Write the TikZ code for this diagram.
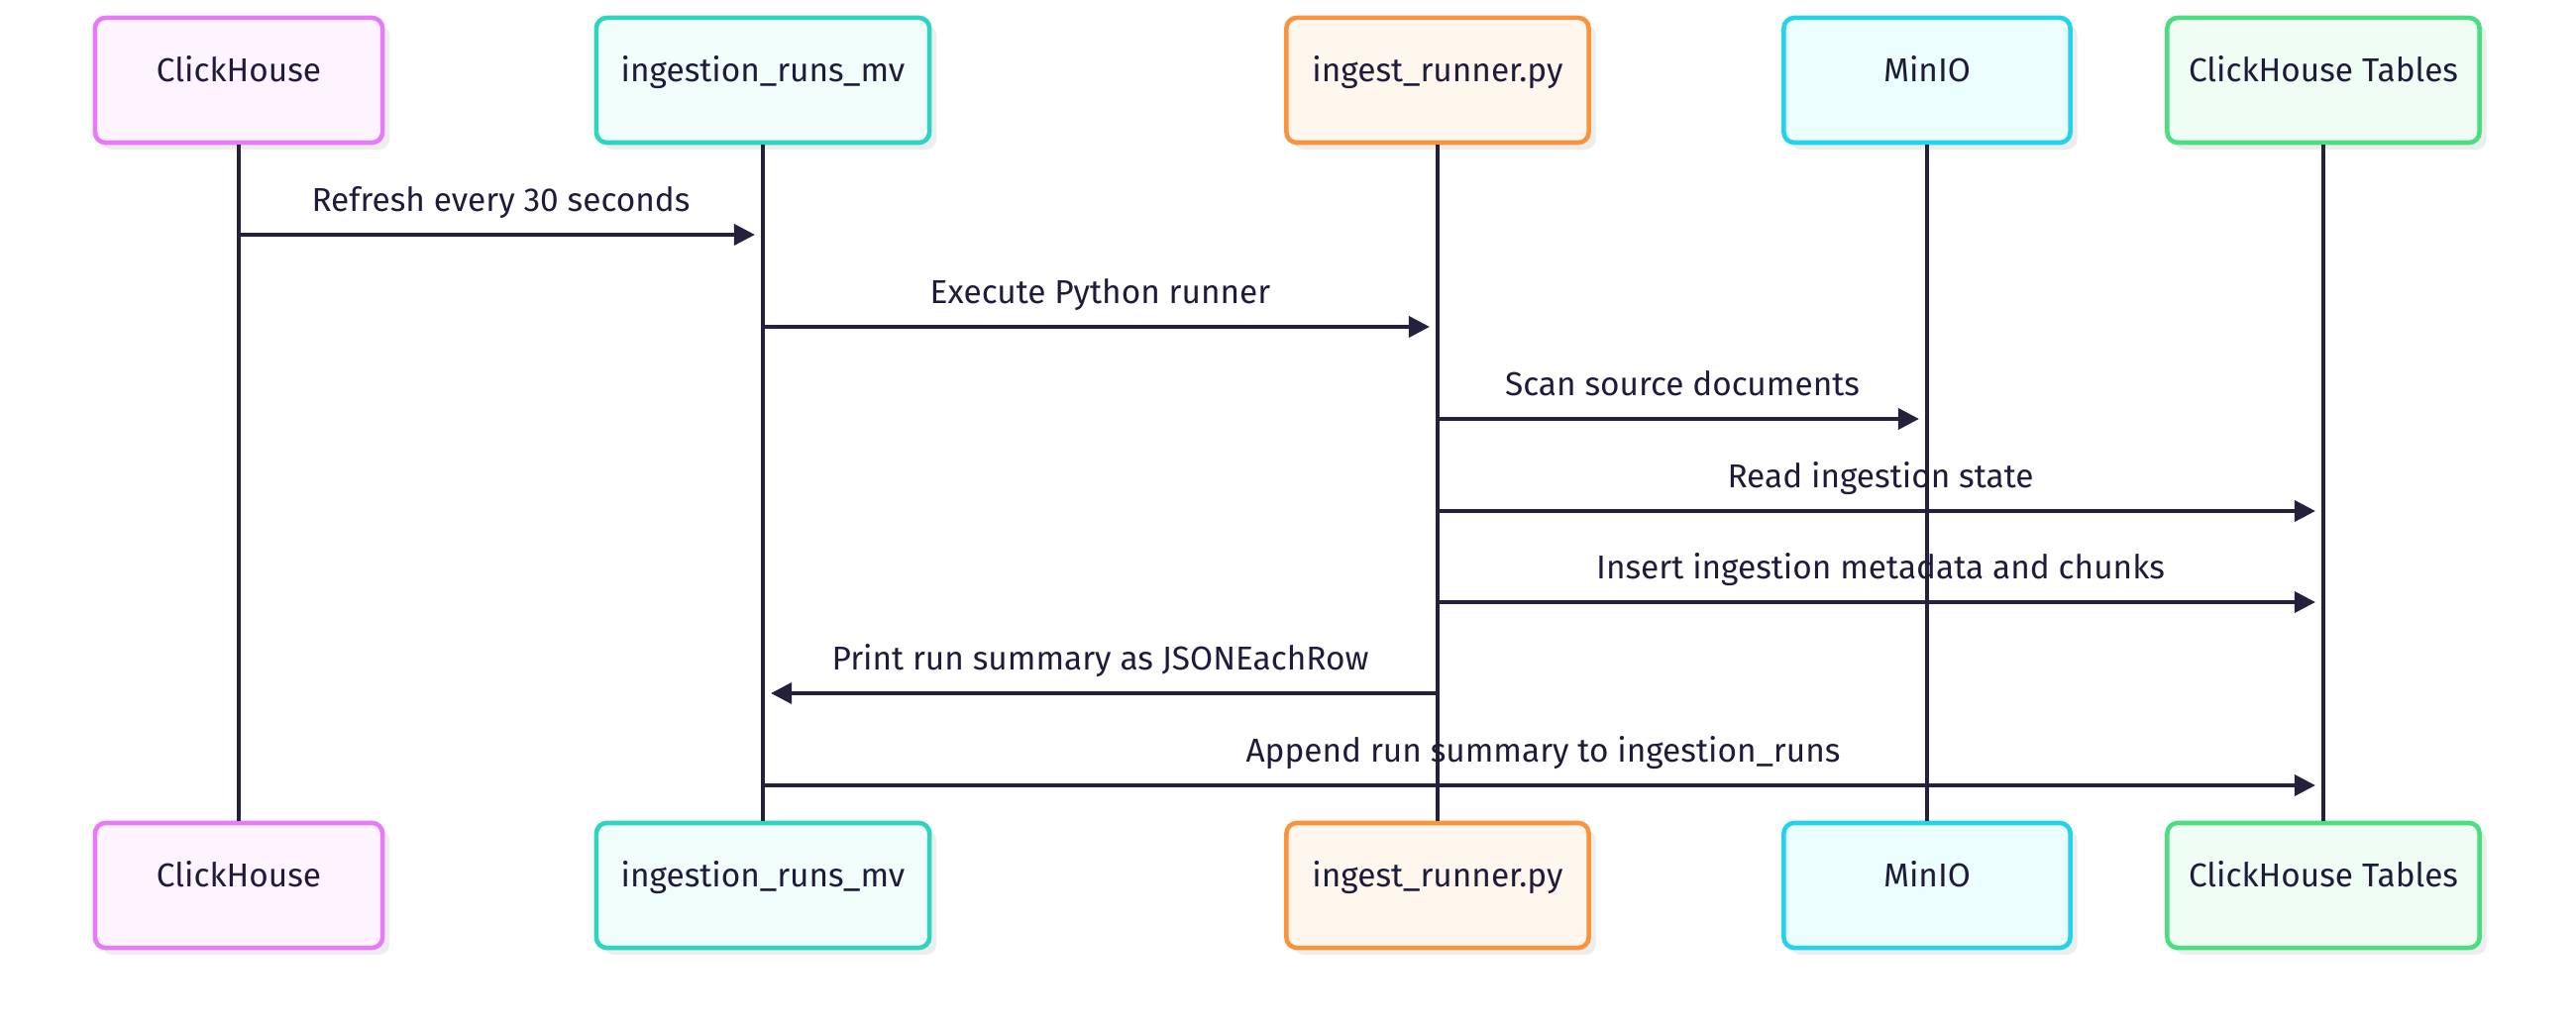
\documentclass[tikz,border=0pt]{standalone}
\usepackage{fontspec}
\setmainfont{Fira Sans}
\usetikzlibrary{arrows.meta, shadows}

\definecolor{ink}{HTML}{1E1C3A}
\definecolor{wire}{HTML}{23213B}
\definecolor{chLine}{HTML}{E879F9}   \definecolor{chFill}{HTML}{FDF4FF}
\definecolor{mvLine}{HTML}{2DD4BF}   \definecolor{mvFill}{HTML}{F0FDFA}
\definecolor{pyLine}{HTML}{FB923C}   \definecolor{pyFill}{HTML}{FFF7ED}
\definecolor{s3Line}{HTML}{22D3EE}   \definecolor{s3Fill}{HTML}{ECFEFF}
\definecolor{tbLine}{HTML}{4ADE80}   \definecolor{tbFill}{HTML}{F0FDF4}

\begin{document}
\begin{tikzpicture}[
    x=0.01cm, y=-0.01cm,
    font=\fontsize{9.5}{11}\selectfont,
    text=ink,
    actor/.style={draw, line width=1.3pt, rounded corners=3pt, minimum height=1.26cm,
        text height=7pt, text depth=6pt,
        drop shadow={shadow xshift=2pt, shadow yshift=-2pt, fill=black!7, opacity=1}},
    life/.style={draw=wire, line width=1.1pt},
    msg/.style={draw=wire, line width=1.1pt, -{Triangle[length=6pt, width=6pt]}, shorten >=2.3pt},
    msglabel/.style={midway, above=6pt, inner sep=0pt, text depth=0pt}
]
   \useasboundingbox (0,0) rectangle (2600,1037);

   % Participants (top)
   \node[actor, draw=chLine, fill=chFill, minimum width=2.90cm] (ch)     at (241,81)  {ClickHouse};
   \node[actor, draw=mvLine, fill=mvFill, minimum width=3.36cm] (mv)     at (770,81)  {ingestion\_runs\_mv};
   \node[actor, draw=pyLine, fill=pyFill, minimum width=3.05cm] (runner) at (1451,81) {ingest\_runner.py};
   \node[actor, draw=s3Line, fill=s3Fill, minimum width=2.89cm] (minio)  at (1945,81) {MinIO};
   \node[actor, draw=tbLine, fill=tbFill, minimum width=3.15cm] (tables) at (2345,81) {ClickHouse Tables};

   % Participants (bottom)
   \node[actor, draw=chLine, fill=chFill, minimum width=2.90cm] (chEnd)     at (241,894)  {ClickHouse};
   \node[actor, draw=mvLine, fill=mvFill, minimum width=3.36cm] (mvEnd)     at (770,894)  {ingestion\_runs\_mv};
   \node[actor, draw=pyLine, fill=pyFill, minimum width=3.05cm] (runnerEnd) at (1451,894) {ingest\_runner.py};
   \node[actor, draw=s3Line, fill=s3Fill, minimum width=2.89cm] (minioEnd)  at (1945,894) {MinIO};
   \node[actor, draw=tbLine, fill=tbFill, minimum width=3.15cm] (tablesEnd) at (2345,894) {ClickHouse Tables};

   % Lifelines
   \foreach \p in {ch, mv, runner, minio, tables}
      \draw[life] (\p.south) -- (\p End.north);

   % Message levels
   \coordinate (t1) at (0,237);
   \coordinate (t2) at (0,330);
   \coordinate (t3) at (0,423);
   \coordinate (t4) at (0,516);
   \coordinate (t5) at (0,608);
   \coordinate (t6) at (0,700);
   \coordinate (t7) at (0,793);

   % Messages
   \draw[msg] (ch |- t1) -- (mv |- t1) node[msglabel] {Refresh every 30 seconds};
   \draw[msg] (mv |- t2) -- (runner |- t2) node[msglabel] {Execute Python runner};
   \draw[msg] (runner |- t3) -- (minio |- t3) node[msglabel] {Scan source documents};
   \draw[msg] (runner |- t4) -- (tables |- t4) node[msglabel] {Read ingestion state};
   \draw[msg] (runner |- t5) -- (tables |- t5) node[msglabel] {Insert ingestion metadata and chunks};
   \draw[msg] (runner |- t6) -- (mv |- t6) node[msglabel] {Print run summary as JSONEachRow};
   \draw[msg] (mv |- t7) -- (tables |- t7) node[msglabel] {Append run summary to ingestion\_runs};
\end{tikzpicture}
\end{document}
